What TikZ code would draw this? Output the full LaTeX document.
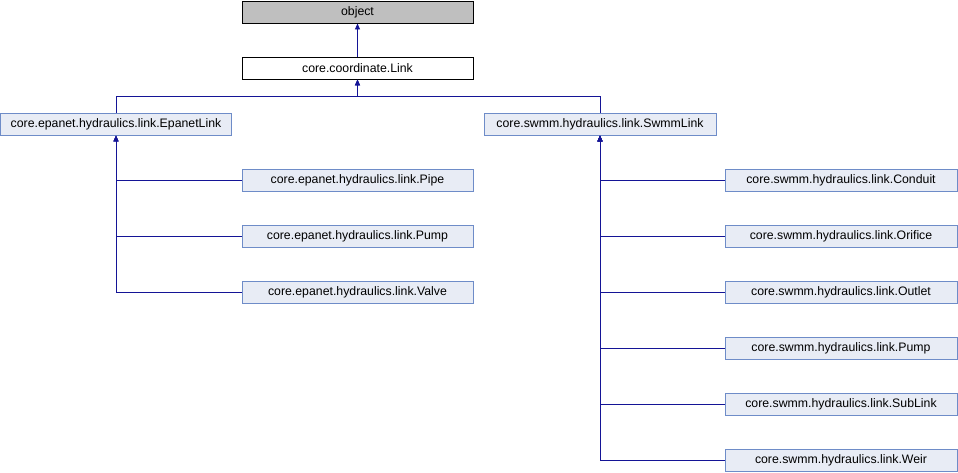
\documentclass[tikz,border=0pt]{standalone}
\usepackage{fontspec}
\setmainfont{Liberation Sans}
\usetikzlibrary{arrows.meta}
\definecolor{edgecol}{RGB}{20,20,150}
\definecolor{nodefill}{RGB}{232,236,245}
\definecolor{nodeline}{RGB}{110,140,200}
\definecolor{graynode}{RGB}{191,191,191}
\tikzset{
  cls/.style={draw=nodeline, fill=nodefill, rectangle, minimum width=231, minimum height=22, inner sep=0pt, font=\fontsize{12.3}{14}\selectfont, line width=0.9pt},
  topcls/.style={cls, draw=black},
  arr/.style={draw=edgecol, line width=0.9pt, -{Triangle[length=6pt,width=5pt]}},
}
\begin{document}
\begin{tikzpicture}[x=1pt,y=-1pt]
\useasboundingbox (0,0) rectangle (958,472);
\node[topcls, fill=graynode] (object) at (357.5,12) {object};
\node[topcls, fill=white] (link) at (357.5,68) {core.coordinate.Link};
\node[cls] (epanet) at (116,124) {core.epanet.hydraulics.link.EpanetLink};
\node[cls, minimum width=232] (swmm) at (600,124) {core.swmm.hydraulics.link.SwmmLink};
\node[cls] (pipe) at (357.5,180) {core.epanet.hydraulics.link.Pipe};
\node[cls] (epump) at (357.5,236) {core.epanet.hydraulics.link.Pump};
\node[cls] (valve) at (357.5,292) {core.epanet.hydraulics.link.Valve};
\node[cls, minimum width=232] (conduit) at (841,180) {core.swmm.hydraulics.link.Conduit};
\node[cls, minimum width=232] (orifice) at (841,236) {core.swmm.hydraulics.link.Orifice};
\node[cls, minimum width=232] (outlet) at (841,292) {core.swmm.hydraulics.link.Outlet};
\node[cls, minimum width=232] (spump) at (841,348) {core.swmm.hydraulics.link.Pump};
\node[cls, minimum width=232] (sublink) at (841,404) {core.swmm.hydraulics.link.SubLink};
\node[cls, minimum width=232] (weir) at (841,460) {core.swmm.hydraulics.link.Weir};
\coordinate (bus) at (357.5,96);
\draw[arr] (link.north) -- (object.south);
\draw[arr] (epanet.north) |- (bus) -- (link.south);
\draw[arr] (swmm.north) |- (bus) -- (link.south);
\foreach \c in {pipe,epump,valve} \draw[arr] (\c.west) -| (epanet.south);
\foreach \c in {conduit,orifice,outlet,spump,sublink,weir} \draw[arr] (\c.west) -| (swmm.south);
\end{tikzpicture}
\end{document}
